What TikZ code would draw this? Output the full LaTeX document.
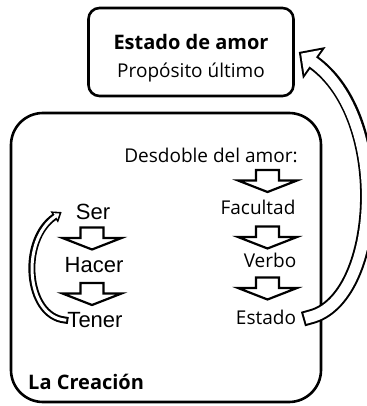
\documentclass[tikz,border=0pt]{standalone}
\usepackage{fontspec}
\setmainfont{Open Sans}
\newfontfamily\arialfont{Liberation Sans}
\usetikzlibrary{arrows.meta,positioning}
\tikzset{
  am box/.style={draw, line width=2.6pt, rounded corners=11pt},
  am block/.style={draw, fill=white, line width=2.2pt},
  am label/.style={font=\fontsize{19}{22}\selectfont, inner sep=0pt},
  am title/.style={font=\fontsize{20}{22}\selectfont\bfseries, inner sep=0pt},
  am step/.style={font=\arialfont\fontsize{22}{24}\selectfont, inner sep=0pt},
  % hollow arrows: black body first, white core on top
  am hollow out/.style={line width=15pt, line cap=rect, -{Triangle[length=19pt, width=38pt]}},
  am hollow in/.style={white, line width=11pt, line cap=rect, shorten >=2.8pt,
    -{Triangle[length=14.2pt, width=28.4pt]}},
  am loop out/.style={line width=7pt, line cap=rect, -{Triangle[length=9pt, width=13pt]}},
  am loop in/.style={white, line width=3pt, line cap=rect, shorten >=2.7pt,
    -{Triangle[length=4.7pt, width=6.8pt]}},
  am down/.pic={
    \draw[am block] (-11.5,-11) -- (11.5,-11) -- (11.5,-0.5) -- (29.5,-0.5)
      -- (0,11) -- (-29.5,-0.5) -- (-11.5,-0.5) -- cycle;
  }
}
\begin{document}
\begin{tikzpicture}[x=1pt,y=-1pt]
\useasboundingbox (0,0) rectangle (366,406);
% purpose
\node[am box, minimum width=205pt, minimum height=88pt] (goal) at (191,52) {};
\node[am title] (amor) at (191,42) {Estado de amor};
\node[am label] (purpose) at (191,73) {Propósito último};
% creation frame
\node[am box, rounded corners=32pt, minimum width=310pt, minimum height=289pt] (creation) at (166,257.5) {};
\node[am title, anchor=south west] (lacrea) at (28,390) {La Creación};
% right column
\node[am label] (desdoble) at (211,155) {Desdoble del amor:};
\pic (d1) at (267.5,181) {am down};
\node[am label] (facultad) at (258,207) {Facultad};
\pic (d2) at (267.5,237.5) {am down};
\node[am label] (verbo) at (270,260) {Verbo};
\pic (d3) at (267.5,288.5) {am down};
\node[am label] (estado) at (266,317) {Estado};
% left column
\node[am step] (ser) at (93,212) {Ser};
\pic (s1) at (92,238.5) {am down};
\node[am step] (hacer) at (94,265) {Hacer};
\pic (s2) at (92,294) {am down};
\node[am step] (tener) at (95,320) {Tener};
% return arrows
\draw[am hollow out] ([xshift=14pt]estado.east) .. controls (380,300) and (392,118) .. ([xshift=4pt]goal.east);
\draw[am hollow in] ([xshift=14pt]estado.east) .. controls (380,300) and (392,118) .. ([xshift=4pt]goal.east);
\draw[am loop out] ([xshift=-2.5pt]tener.west) .. controls (26,316) and (20,240) .. ([xshift=-14pt]ser.west);
\draw[am loop in] ([xshift=-2.5pt]tener.west) .. controls (26,316) and (20,240) .. ([xshift=-14pt]ser.west);
\end{tikzpicture}
\end{document}
